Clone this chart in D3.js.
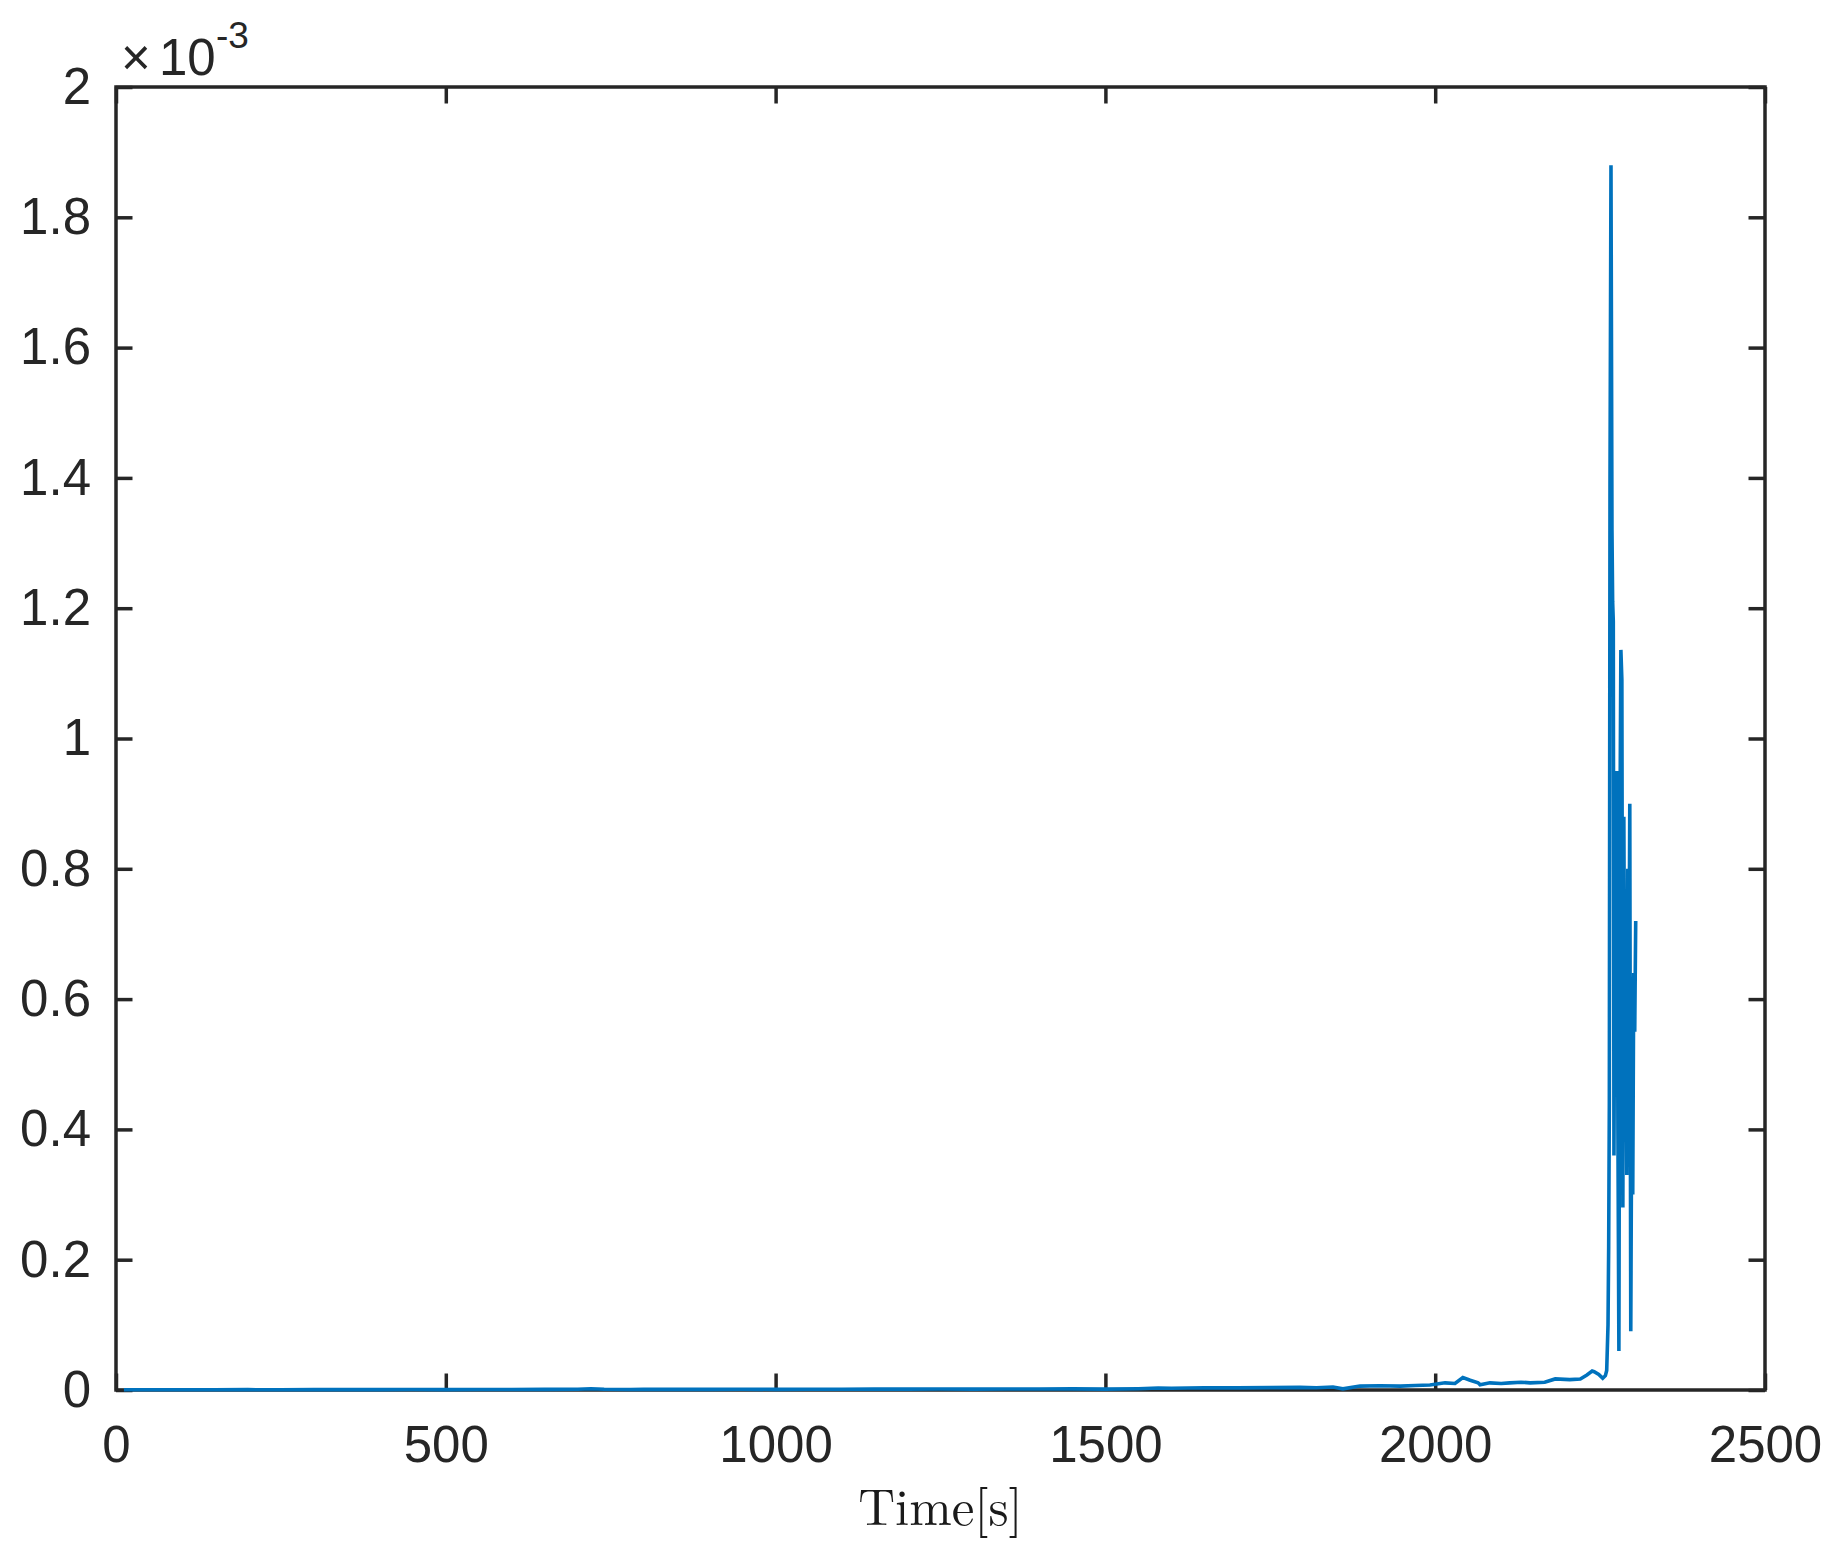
<!DOCTYPE html>
<html>
<head>
<meta charset="utf-8">
<script src="https://cdn.jsdelivr.net/npm/d3@7"></script>
<style>
  html, body { margin: 0; padding: 0; background: #ffffff; }
  svg { display: block; }
</style>
</head>
<body>
<svg id="chart" width="1837" height="1560"></svg>
<script>
// ---- data ----
const xTicks = [0, 500, 1000, 1500, 2000, 2500];
const yTicks = [0, 0.0002, 0.0004, 0.0006, 0.0008, 0.001, 0.0012, 0.0014, 0.0016, 0.0018, 0.002];
const yTickLabels = ["0", "0.2", "0.4", "0.6", "0.8", "1", "1.2", "1.4", "1.6", "1.8", "2"];
const xLabel = "Time[s]";
const yExponent = "-3";

// time in seconds
const time = [
  12, 50, 100, 150, 200, 250, 300, 350, 400, 450, 500, 550, 600, 650, 700, 720, 740, 780,
  800, 850, 900, 950, 1000, 1050, 1100, 1150, 1200, 1250, 1300, 1350, 1400, 1450, 1500,
  1550, 1580, 1600, 1650, 1700, 1750, 1795, 1820, 1845, 1860, 1886, 1916, 1947, 1970, 1992,
  2015, 2030, 2042, 2053, 2065, 2068, 2083, 2100, 2113, 2130, 2144, 2166, 2182, 2204, 2220,
  2230, 2238, 2241, 2248, 2254, 2258, 2260,
  2262, 2263, 2264, 2265, 2266.5, 2268, 2269, 2270, 2271, 2272.5, 2274, 2275.5, 2277,
  2278.5, 2280, 2281.5, 2283, 2284.5, 2286, 2287.5, 2289, 2290.5, 2292, 2293.5, 2295,
  2296.5, 2298, 2299.5, 2301, 2302.5, 2304
];
// signal value
const value = [
  0.3e-6, 0.3e-6, 0.4e-6, 0.3e-6, 0.5e-6, 0.4e-6, 0.5e-6, 0.6e-6, 0.5e-6, 0.7e-6, 0.6e-6, 0.8e-6, 0.7e-6, 0.9e-6, 1.2e-6, 2.0e-6, 1.1e-6, 0.8e-6,
  0.9e-6, 1.0e-6, 0.9e-6, 1.1e-6, 1.0e-6, 1.2e-6, 1.1e-6, 1.4e-6, 1.3e-6, 1.5e-6, 1.4e-6, 1.6e-6, 1.5e-6, 1.7e-6, 1.4e-6,
  2.0e-6, 3.0e-6, 2.6e-6, 3.5e-6, 3.2e-6, 3.6e-6, 4.1e-6, 3.5e-6, 4.6e-6, 1.8e-6, 6.0e-6, 6.6e-6, 6.0e-6, 7.0e-6, 7.7e-6,
  11e-6, 10e-6, 19e-6, 15e-6, 11e-6, 8e-6, 11e-6, 10e-6, 11e-6, 12e-6, 11e-6, 12e-6, 17e-6, 16e-6, 17e-6,
  23e-6, 29e-6, 28e-6, 24e-6, 18e-6, 22e-6, 30e-6,
  0.10e-3, 0.22e-3, 0.44e-3, 1.39e-3, 1.88e-3, 1.32e-3, 1.21e-3, 1.18e-3, 0.36e-3, 0.76e-3, 0.62e-3, 0.95e-3, 0.40e-3,
  0.06e-3, 0.84e-3, 1.136e-3, 1.09e-3, 0.28e-3, 0.88e-3, 0.48e-3, 0.62e-3, 0.33e-3, 0.80e-3, 0.55e-3, 0.90e-3,
  0.09e-3, 0.45e-3, 0.30e-3, 0.64e-3, 0.55e-3, 0.72e-3
];

// ---- layout ----
const plot = { left: 116, right: 1765, top: 87, bottom: 1390 };
const axisColor = "#262626";
const lineColor = "#0072BD";
const fontSans = "'Liberation Sans', Arial, Helvetica, sans-serif";
const fontSerif = "'Latin Modern Roman', 'CMU Serif', 'Liberation Serif', 'Times New Roman', serif";
const tickLen = 16.5;

const svg = d3.select("#chart");

const x = d3.scaleLinear().domain([0, 2500]).range([plot.left, plot.right]);
const y = d3.scaleLinear().domain([0, 0.002]).range([plot.bottom, plot.top]);

function styleAxis(g) {
  g.select(".domain").remove();
  g.selectAll(".tick line").attr("stroke", axisColor).attr("stroke-width", 3.5);
  g.selectAll(".tick text")
    .attr("fill", axisColor)
    .attr("font-family", fontSans)
    .attr("font-size", 51);
}

// plot background
svg.append("rect")
  .attr("x", plot.left).attr("y", plot.top)
  .attr("width", plot.right - plot.left).attr("height", plot.bottom - plot.top)
  .attr("fill", "#ffffff");

// bottom axis
svg.append("g")
  .attr("transform", `translate(0,${plot.bottom})`)
  .call(d3.axisBottom(x).tickValues(xTicks).tickFormat(d3.format("d"))
        .tickSizeInner(-tickLen).tickSizeOuter(0).tickPadding(36))
  .call(styleAxis);

// top axis (ticks only)
svg.append("g")
  .attr("transform", `translate(0,${plot.top})`)
  .call(d3.axisTop(x).tickValues(xTicks).tickFormat("")
        .tickSizeInner(-tickLen).tickSizeOuter(0))
  .call(styleAxis);

// left axis
svg.append("g")
  .attr("transform", `translate(${plot.left},0)`)
  .call(d3.axisLeft(y).tickValues(yTicks).tickFormat((d, i) => yTickLabels[i])
        .tickSizeInner(-tickLen).tickSizeOuter(0).tickPadding(25))
  .call(styleAxis);

// right axis (ticks only)
svg.append("g")
  .attr("transform", `translate(${plot.right},0)`)
  .call(d3.axisRight(y).tickValues(yTicks).tickFormat("")
        .tickSizeInner(-tickLen).tickSizeOuter(0))
  .call(styleAxis);

// frame
svg.append("rect")
  .attr("x", plot.left).attr("y", plot.top)
  .attr("width", plot.right - plot.left).attr("height", plot.bottom - plot.top)
  .attr("fill", "none")
  .attr("stroke", axisColor)
  .attr("stroke-width", 3.5);

// data line
const data = time.map((t, i) => ({ t: t, v: value[i] }));
svg.append("path")
  .datum(data)
  .attr("fill", "none")
  .attr("stroke", lineColor)
  .attr("stroke-width", 3.6)
  .attr("stroke-linejoin", "miter")
  .attr("stroke-miterlimit", 2)
  .attr("d", d3.line().x(d => x(d.t)).y(d => y(d.v)));

// exponent label  ×10^-3
const expG = svg.append("g")
  .attr("fill", axisColor)
  .attr("font-family", fontSans);
expG.append("text").attr("x", 121).attr("y", 75).attr("font-size", 51).text("\u00D7");
expG.append("text").attr("x", 159).attr("y", 75).attr("font-size", 51).text("10");
expG.append("text").attr("x", 216).attr("y", 48).attr("font-size", 37).text(yExponent);

// x label
svg.append("text")
  .attr("x", (plot.left + plot.right) / 2)
  .attr("y", 1525)
  .attr("text-anchor", "middle")
  .attr("fill", "#1a1a1a")
  .attr("font-family", fontSerif)
  .attr("font-size", 51)
  .text(xLabel);
</script>
</body>
</html>
